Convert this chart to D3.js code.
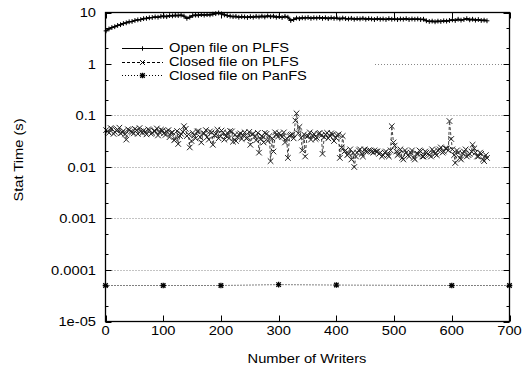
<!DOCTYPE html>
<html><head><meta charset="utf-8">
<script src="https://cdn.jsdelivr.net/npm/d3@7"></script>
<style>body{margin:0;background:#fff}svg{display:block}text{font-family:"Liberation Sans",Arial,sans-serif;font-size:13px;fill:#000}</style>
</head><body><svg id="c" width="525" height="371"></svg>
<script>
const writers = [1,6,11,16,21,26,31,36,41,46,51,56,61,66,71,76,81,86,91,96,101,106,111,116,121,126,131,136,141,146,151,156,161,166,171,176,181,186,191,196,201,206,211,216,221,226,231,236,241,246,251,256,261,266,271,276,281,286,291,296,301,306,311,316,321,326,331,336,341,346,351,356,361,366,371,376,381,386,391,396,401,406,411,416,421,426,431,436,441,446,451,456,461,466,471,476,481,486,491,496,501,506,511,516,521,526,531,536,541,546,551,556,561,566,571,576,581,586,591,596,601,606,611,616,621,626,631,636,641,646,651,656,661];
const openPLFS = [4.4,4.8,5.1,5.3,5.6,5.8,6.1,6.3,6.6,6.7,7.0,7.2,7.3,7.6,7.7,7.9,8.0,8.2,8.1,8.4,8.5,8.3,8.7,8.6,8.8,8.7,8.9,8.5,7.7,8.1,8.7,8.9,8.8,9.1,8.9,9.1,9.0,9.3,9.5,9.8,9.4,9.0,8.7,8.5,8.3,8.4,8.1,8.3,8.2,8.0,8.3,8.1,8.4,8.2,8.5,8.2,8.6,8.3,8.5,8.1,8.3,8.0,8.4,8.1,7.0,7.3,7.8,7.6,7.9,7.8,8.0,7.7,7.9,7.8,8.0,7.7,7.9,7.6,7.9,7.7,7.8,7.5,7.8,7.6,7.5,7.7,7.4,7.6,7.5,7.7,7.4,7.6,7.5,7.3,7.6,7.4,7.5,7.3,7.6,7.4,7.5,7.3,7.5,7.4,7.6,7.3,7.5,7.4,7.5,7.3,7.4,6.9,6.7,6.8,6.6,6.8,6.7,6.9,6.8,7.0,7.2,7.0,7.4,7.1,7.3,7.6,7.2,7.4,7.1,7.3,7.0,7.1,6.9];
const closedPLFS = [0.052,0.046,0.055,0.048,0.053,0.045,0.050,0.034,0.052,0.047,0.055,0.044,0.049,0.051,0.043,0.052,0.046,0.050,0.041,0.053,0.045,0.049,0.038,0.047,0.035,0.028,0.044,0.062,0.040,0.024,0.046,0.036,0.050,0.030,0.045,0.038,0.049,0.027,0.044,0.036,0.051,0.034,0.046,0.050,0.031,0.032,0.043,0.035,0.047,0.037,0.027,0.044,0.033,0.019,0.040,0.046,0.032,0.013,0.020,0.042,0.045,0.038,0.030,0.015,0.042,0.036,0.110,0.060,0.021,0.016,0.040,0.034,0.044,0.037,0.046,0.018,0.043,0.036,0.045,0.032,0.041,0.015,0.040,0.021,0.018,0.014,0.010,0.019,0.022,0.016,0.020,0.021,0.020,0.021,0.020,0.019,0.017,0.020,0.016,0.062,0.026,0.017,0.022,0.014,0.019,0.016,0.021,0.014,0.018,0.020,0.016,0.019,0.017,0.022,0.018,0.021,0.024,0.020,0.023,0.078,0.022,0.012,0.019,0.014,0.020,0.016,0.018,0.027,0.019,0.016,0.018,0.013,0.015];
// extra closed-PLFS samples between the ones above (writers 4, 9, ..., 659)
const writersB = [4,9,14,19,24,29,34,39,44,49,54,59,64,69,74,79,84,89,94,99,104,109,114,119,124,129,134,139,144,149,154,159,164,169,174,179,184,189,194,199,204,209,214,219,224,229,234,239,244,249,254,259,264,269,274,279,284,289,294,299,304,309,314,319,324,329,334,339,344,349,354,359,364,369,374,379,384,389,394,399,404,409,414,419,424,429,434,439,444,449,454,459,464,469,474,479,484,489,494,499,504,509,514,519,524,529,534,539,544,549,554,559,564,569,574,579,584,589,594,599,604,609,614,619,624,629,634,639,644,649,654,659];
const closedPLFSb = [0.049,0.057,0.044,0.051,0.058,0.047,0.043,0.054,0.049,0.045,0.052,0.057,0.046,0.048,0.054,0.044,0.050,0.056,0.047,0.051,
0.042,0.052,0.046,0.033,0.050,0.040,0.048,0.055,0.043,0.032,0.041,0.049,0.038,0.045,0.052,0.034,0.047,0.041,0.053,0.039,
0.047,0.040,0.036,0.049,0.042,0.038,0.045,0.041,0.036,0.048,0.043,0.039,0.046,0.035,0.030,0.044,0.040,0.036,0.047,0.039,
0.041,0.047,0.036,0.040,0.043,0.080,0.045,0.037,0.043,0.039,0.047,0.040,0.035,0.044,0.041,0.038,0.046,0.040,0.043,0.037,
0.043,0.024,0.020,0.017,0.022,0.019,0.016,0.021,0.018,0.022,0.020,0.021,0.019,0.020,0.018,0.016,0.019,0.017,0.021,0.030,
0.020,0.018,0.015,0.021,0.017,0.019,0.015,0.018,0.021,0.016,0.020,0.018,0.016,0.020,0.017,0.022,0.019,0.023,0.021,0.035,
0.017,0.021,0.015,0.018,0.022,0.017,0.020,0.023,0.016,0.019,0.014,0.017];
const panfsWriters = [0,100,200,300,400,600,700];
const closedPanFS = [5.0e-5,5.0e-5,5.0e-5,5.2e-5,5.1e-5,5.0e-5,5.0e-5];
const xTicks = [0,100,200,300,400,500,600,700];
const yTicks = [1e-5,1e-4,1e-3,1e-2,1e-1,1,10];
const yTickLabels = ["1e-05","0.0001","0.001","0.01","0.1","1","10"];
const seriesNames = ["Open file on PLFS","Closed file on PLFS","Closed file on PanFS"];

const svg = d3.select("#c");
const L=105.5, R=509.5, T=12.5, B=321.5;
const x = d3.scaleLinear().domain([0,700]).range([L,R]);
const y = d3.scaleLog().domain([1e-5,10]).range([B,T]);
const SX = 1.13;
function label(parent, tx, ty, txt, anchor){
  const g = parent.append("g").attr("transform", `translate(${tx},${ty}) scale(${SX},1)`);
  g.append("text").attr("text-anchor", anchor||"start").text(txt);
  return g;
}

// grid
const gridTicks = yTicks.filter(v=>v>1e-5 && v<10);
svg.append("g").selectAll("line").data(gridTicks).join("line")
  .attr("x1",d=>d===1?375:L).attr("x2",R)
  .attr("y1",d=>Math.round(y(d))+0.5).attr("y2",d=>Math.round(y(d))+0.5)
  .attr("stroke","#888").attr("stroke-width",1).attr("stroke-dasharray","1,2");

// ticks
const minor=[];
yTicks.slice(0,-1).forEach(v=>{[2,5].forEach(m=>minor.push(v*m));});
const tk = svg.append("g").attr("stroke","#000").attr("stroke-width",1);
minor.forEach(v=>{const yy=Math.round(y(v))+0.5;
  tk.append("line").attr("x1",L).attr("x2",L+3).attr("y1",yy).attr("y2",yy);
  tk.append("line").attr("x1",R-3).attr("x2",R).attr("y1",yy).attr("y2",yy);});
yTicks.forEach(v=>{const yy=Math.round(y(v))+0.5;
  tk.append("line").attr("x1",L).attr("x2",L+6).attr("y1",yy).attr("y2",yy);
  tk.append("line").attr("x1",R-6).attr("x2",R).attr("y1",yy).attr("y2",yy);});
xTicks.forEach(v=>{const xx=Math.round(x(v))+0.5;
  tk.append("line").attr("x1",xx).attr("x2",xx).attr("y1",B).attr("y2",B-6);
  tk.append("line").attr("x1",xx).attr("x2",xx).attr("y1",T).attr("y2",T+6);});

// labels
const yl = svg.append("g");
yTicks.forEach((d,i)=>label(yl, 96, y(d)+4.5, yTickLabels[i], "end"));
const xl = svg.append("g");
xTicks.forEach(d=>label(xl, x(d), 335, String(d), "middle"));
label(svg, 307, 363, "Number of Writers", "middle");
const ylab = svg.append("g").attr("transform","translate(23,160) rotate(-90)");
ylab.append("g").attr("transform",`scale(${SX},1)`).append("text").attr("text-anchor","middle").text("Stat Time (s)");

// markers
function plus(g,cx,cy,s){g.append("path").attr("d",`M${cx-s},${cy}H${cx+s}M${cx},${cy-s}V${cy+s}`);}
function cross(g,cx,cy,s){g.append("path").attr("d",`M${cx-s},${cy-s}L${cx+s},${cy+s}M${cx-s},${cy+s}L${cx+s},${cy-s}`);}
function star(g,cx,cy,s){plus(g,cx,cy,s);cross(g,cx,cy,s*0.8);}

const line = d3.line();
// Closed PanFS
const p3 = panfsWriters.map((w,i)=>[x(w),y(closedPanFS[i])]);
svg.append("path").attr("d",line(p3)).attr("fill","none").attr("stroke","#000").attr("stroke-dasharray","1,2");
const g3=svg.append("g").attr("stroke","#000").attr("stroke-width",1.3);
p3.forEach(p=>star(g3,p[0],p[1],2.8));
// Closed PLFS
const c2 = writers.map((w,i)=>[w,closedPLFS[i]]).concat(writersB.map((w,i)=>[w,closedPLFSb[i]])).sort((a,b)=>a[0]-b[0]);
const p2 = c2.map(d=>[x(d[0]),y(d[1])]);
svg.append("path").attr("d",line(p2)).attr("fill","none").attr("stroke","#444").attr("stroke-dasharray","3,2");
const g2=svg.append("g").attr("stroke","#222").attr("stroke-width",1);
p2.forEach(p=>cross(g2,p[0],p[1],2.8));
// Open PLFS
const p1 = writers.map((w,i)=>[x(w),y(openPLFS[i])]);
svg.append("path").attr("d",line(p1)).attr("fill","none").attr("stroke","#000").attr("stroke-width",1.6);
const g1=svg.append("g").attr("stroke","#000").attr("stroke-width",1);
p1.forEach(p=>plus(g1,p[0],p[1],2.4));

// frame
svg.append("rect").attr("x",L).attr("y",T).attr("width",R-L).attr("height",B-T).attr("fill","none").attr("stroke","#000").attr("stroke-width",1.3);

// legend
const ly=[47.5,61.5,75];
const lg=svg.append("g");
seriesNames.forEach((n,i)=>{
  const yy=Math.round(ly[i])+0.5;
  lg.append("line").attr("x1",122).attr("x2",163).attr("y1",yy).attr("y2",yy).attr("stroke","#000")
    .attr("stroke-dasharray",i===0?null:(i===1?"3,2":"1,2"));
  const gg=lg.append("g").attr("stroke","#000").attr("stroke-width",i===2?1.3:1);
  if(i===0)plus(gg,142.5,yy,2.2); else if(i===1)cross(gg,142.5,yy,2.4); else star(gg,142.5,yy,2.8);
  label(lg, 169, ly[i]+4.5, n, "start");
});
</script></body></html>
